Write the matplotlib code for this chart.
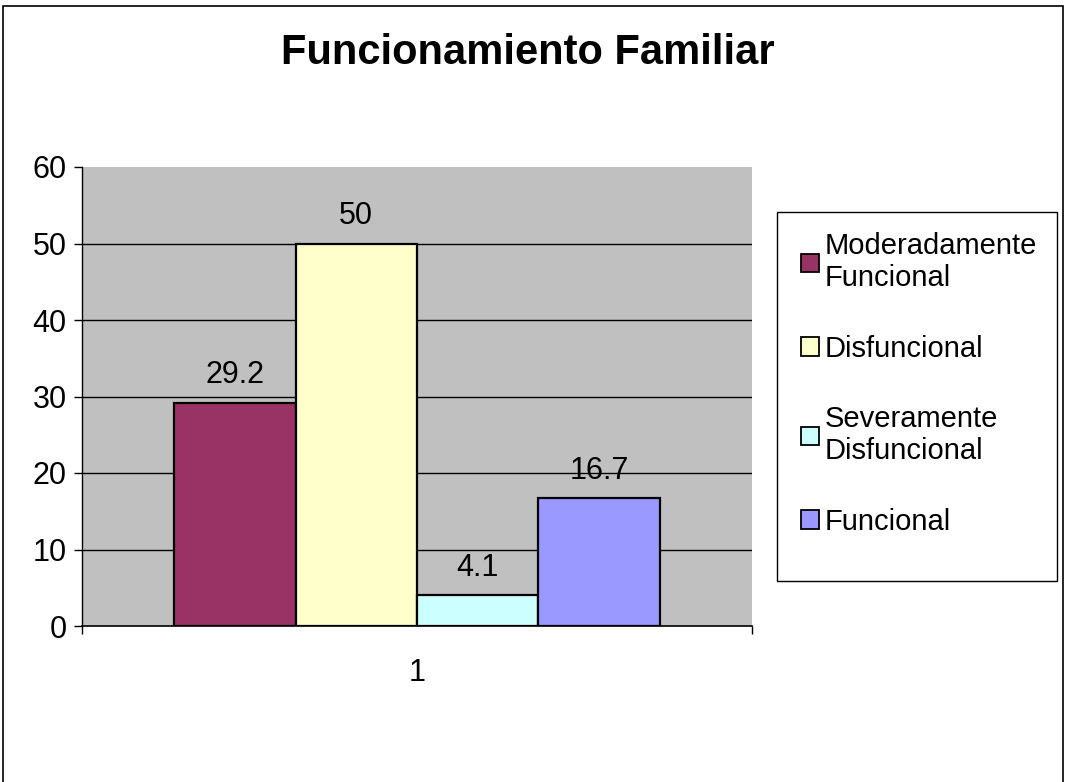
import matplotlib
matplotlib.use("Agg")
import matplotlib.pyplot as plt
from matplotlib.patches import Rectangle, Patch

title = "Funcionamiento Familiar"
categories = ["1"]
series_names = ["Moderadamente\nFuncional", "Disfuncional", "Severamente\nDisfuncional", "Funcional"]
values = [29.2, 50, 4.1, 16.7]
value_labels = ["29.2", "50", "4.1", "16.7"]
colors = ["#993366", "#FFFFCC", "#CCFFFF", "#9999FF"]
yticks = [0, 10, 20, 30, 40, 50, 60]

plt.rcParams['font.family'] = ['Liberation Sans', 'DejaVu Sans']

W, H = 1065, 782
fig = plt.figure(figsize=(W / 100, H / 100), dpi=100)
fig.patch.set_facecolor("white")
# outer chart border
fig.add_artist(Rectangle((3 / W, -0.01), 1 - 5 / W, 1 - 6 / H + 0.01,
                         transform=fig.transFigure, fill=False,
                         edgecolor="black", linewidth=1.2))

ax = fig.add_axes([82 / W, 1 - 626 / H, 670 / W, 459 / H])
ax.set_facecolor("#C0C0C0")

w = 121.5 / 670
for i, (v, c, lab, name) in enumerate(zip(values, colors, value_labels, series_names)):
    x = 1 + (i - 1.5) * w
    ax.bar(x, v, width=w, color=c, edgecolor="black", linewidth=1.6, zorder=3, label=name)
    ax.text(x, v + 2.5, lab, ha="center", va="baseline", fontsize=22, zorder=4)

ax.set_xlim(0.5, 1.5)
ax.set_ylim(0, 60)
ax.set_yticks(yticks)
ax.set_yticklabels([str(t) for t in yticks], fontsize=22)
ax.set_xticks([0.5, 1.5], minor=True)
ax.set_xticks([1])
ax.set_xticklabels(categories, fontsize=22)
ax.tick_params(axis="x", which="major", length=0, pad=23)
ax.tick_params(axis="x", which="minor", length=6, width=1, direction="out")
ax.tick_params(axis="y", length=6, width=1, direction="out", pad=5)
for t in yticks[1:-1]:
    ax.axhline(t, color="black", linewidth=1, zorder=1)
for s in ["top", "right"]:
    ax.spines[s].set_visible(False)
ax.spines["left"].set_linewidth(1)
ax.spines["bottom"].set_linewidth(1.2)

fig.text(528 / W, 1 - 53 / H, title, ha="center", va="center",
         fontsize=30, fontweight="bold")

# legend box
fig.add_artist(Rectangle((777 / W, 1 - 581 / H), 280 / W, 369 / H,
                         transform=fig.transFigure, facecolor="white",
                         edgecolor="black", linewidth=1))
handles = [Patch(facecolor=c, edgecolor="black", linewidth=1.3) for c in colors]
leg = fig.legend(handles, series_names, loc="upper left",
                 bbox_to_anchor=(801 / W, 1 - 232 / H), fontsize=21,
                 frameon=False,
                 handlelength=0.6, handleheight=0.6, handletextpad=0.2,
                 labelspacing=1.45, borderpad=0, borderaxespad=0)

fig.savefig("out.png", dpi=100, facecolor="white")
